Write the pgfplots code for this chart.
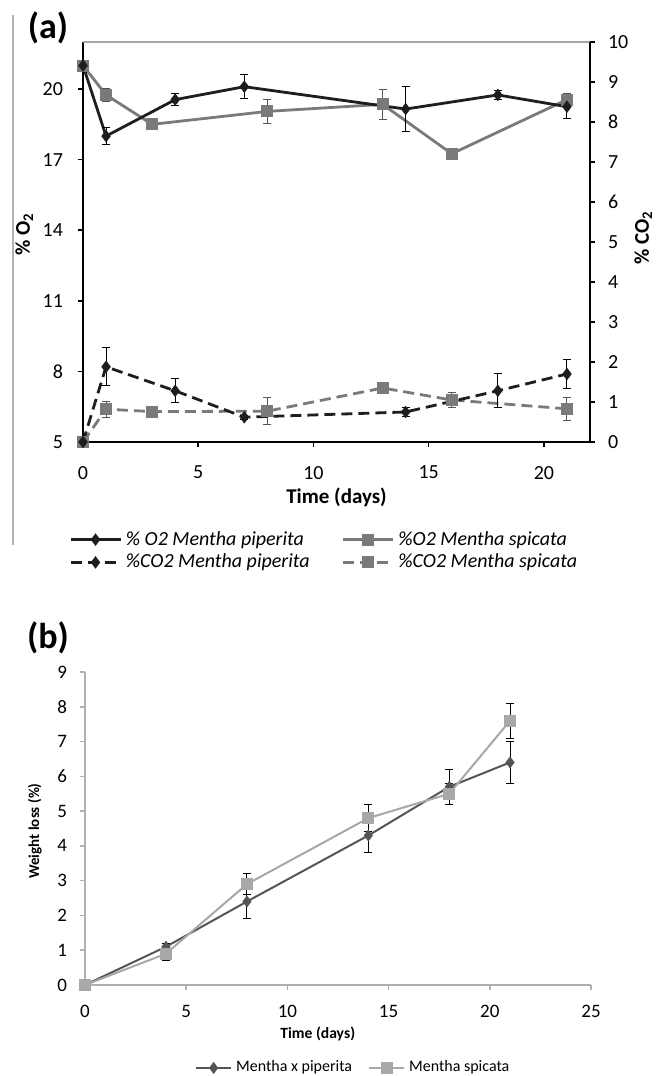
\documentclass[border=0pt]{standalone}
\usepackage{pgfplots}
\pgfplotsset{compat=1.18}
\usepackage{fontspec}
\setmainfont{Carlito}

\definecolor{pipA}{HTML}{1E1E1E}
\definecolor{spiA}{HTML}{7A7A7A}
\definecolor{pipB}{HTML}{555555}
\definecolor{spiB}{HTML}{A8A8A8}
\definecolor{axB}{HTML}{B0B0B0}

\pgfplotsset{
  o2pip/.style={color=pipA, line width=1.4pt, mark=diamond*, mark size=2pt, mark options={solid}},
  o2spi/.style={color=spiA, line width=1.4pt, mark=square*, mark size=2.3pt, mark options={solid}},
  co2pip/.style={o2pip, dash pattern=on 5.5pt off 3pt},
  co2spi/.style={o2spi, dash pattern=on 5.5pt off 3pt},
  ebars/.style={error bars/.cd, y dir=both, y explicit, error mark=-,
    error bar style={line width=0.5pt, solid, color=#1},
    error mark options={rotate=90, line width=0.5pt, mark size=2pt, solid, color=#1}},
}

\begin{document}
\begin{tikzpicture}
\path[use as bounding box] (0,0) rectangle (329pt,538pt);

% frame edge on the left of panel (a)
\draw[gray!60, line width=1pt] (6.5pt,530.5pt) -- (6.5pt,265.5pt);
\node[font=\fontsize{18}{20}\selectfont\bfseries] at (24pt,524pt) {(a)};
\node[font=\fontsize{18}{20}\selectfont\bfseries] at (24pt,219pt) {(b)};

%% ---- panel (a), left axis: % O2
\begin{axis}[
  at={(41.5pt,317pt)}, anchor=south west,
  scale only axis, width=253.5pt, height=200pt,
  xmin=0, xmax=22, ymin=5, ymax=22,
  xtick={0,5,...,20}, ytick={5,8,...,20},
  axis x line*=bottom, axis y line*=left,
  axis line style={-, black, line width=0.8pt},
  tick style={black, line width=0.8pt},
  tick align=outside, major tick length=2.5pt,
  /pgf/number format/assume math mode=true,
  tick label style={font=\fontsize{10}{12}\selectfont},
  yticklabel style={xshift=-4pt},
  xticklabel style={yshift=-6pt},
  xlabel={\bfseries Time (days)},
  xlabel style={font=\fontsize{10.5}{12}\selectfont, at={(axis description cs:0.5,-0.1375)}, anchor=center},
  ylabel={\bfseries \% O\textsubscript{2}},
  ylabel style={font=\fontsize{10.5}{12}\selectfont, at={(axis description cs:-0.116,0.52)}, anchor=center},
  clip=false,
]
\draw[gray!70, line width=0.6pt] (rel axis cs:0,1) -- (rel axis cs:1,1);
\addplot[o2spi, ebars=spiA!70!black] coordinates {
  (0,21) +- (0,0)
  (1,19.75) +- (0,0.28)
  (3,18.5) +- (0,0.12)
  (8,19.05) +- (0,0.5)
  (13,19.35) +- (0,0.65)
  (16,17.25) +- (0,0.12)
  (21,19.55) +- (0,0.25)
};
\addplot[o2pip, ebars=black] coordinates {
  (0,21) +- (0,0)
  (1,18.0) +- (0,0.35)
  (4,19.55) +- (0,0.25)
  (7,20.1) +- (0,0.5)
  (14,19.15) +- (0,0.95)
  (18,19.75) +- (0,0.2)
  (21,19.25) +- (0,0.5)
};
\end{axis}

%% ---- panel (a), right axis: % CO2
\begin{axis}[
  at={(41.5pt,317pt)}, anchor=south west,
  scale only axis, width=253.5pt, height=200pt,
  xmin=0, xmax=22, ymin=0, ymax=10,
  ytick={0,1,...,10},
  axis x line=none, axis y line*=right,
  axis line style={-, black, line width=0.8pt},
  tick style={black, line width=0.8pt},
  tick align=outside, major tick length=2.5pt,
  /pgf/number format/assume math mode=true,
  tick label style={font=\fontsize{10}{12}\selectfont},
  yticklabel style={xshift=3pt},
  ylabel={\bfseries \% CO\textsubscript{2}},
  ylabel style={font=\fontsize{10.5}{12}\selectfont, at={(axis description cs:1.105,0.51)}, anchor=center},
  clip=false,
  legend columns=2,
  legend cell align=left,
  legend style={at={(axis description cs:-0.04,-0.2725)}, anchor=west, draw=none, fill=none,
    font=\fontsize{10}{12}\selectfont\itshape, row sep=-1pt,
    /tikz/every even column/.append style={column sep=14pt}},
  legend image code/.code={\draw[mark repeat=2, mark phase=2] plot coordinates {(0pt,0pt) (12.5pt,0pt) (25pt,0pt)};},
]
\addlegendimage{o2pip}
\addlegendentry{\% O2 Mentha piperita}
\addlegendimage{o2spi}
\addlegendentry{\%O2 Mentha spicata}
\addplot[co2spi, forget plot, ebars=spiA!70!black] coordinates {
  (0,0) +- (0,0)
  (1,0.82) +- (0,0.2)
  (3,0.76) +- (0,0.12)
  (8,0.77) +- (0,0.34)
  (13,1.35) +- (0,0.05)
  (16,1.05) +- (0,0.18)
  (21,0.83) +- (0,0.29)
};
\addplot[co2pip, ebars=black] coordinates {
  (0,0) +- (0,0)
  (1,1.88) +- (0,0.48)
  (4,1.28) +- (0,0.3)
  (7,0.62) +- (0,0.05)
  (14,0.75) +- (0,0.12)
  (18,1.28) +- (0,0.42)
  (21,1.7) +- (0,0.36)
};
\addlegendentry{\%CO2 Mentha piperita}
\addlegendimage{co2spi}
\addlegendentry{\%CO2 Mentha spicata}
\end{axis}

%% ---- panel (b): weight loss
\begin{axis}[
  at={(42.5pt,45.5pt)}, anchor=south west,
  scale only axis, width=253pt, height=156.5pt,
  xmin=0, xmax=25, ymin=0, ymax=9,
  xtick={0,5,...,25}, ytick={0,1,...,9},
  axis x line*=bottom, axis y line*=left,
  axis line style={-, axB, line width=0.9pt},
  tick style={axB, line width=0.8pt},
  tick align=outside, major tick length=2.5pt,
  /pgf/number format/assume math mode=true,
  tick label style={font=\fontsize{9.5}{11}\selectfont},
  yticklabel style={xshift=-3pt},
  xticklabel style={yshift=-4pt},
  xlabel={\bfseries Time (days)},
  xlabel style={font=\fontsize{7.8}{9}\selectfont, at={(axis description cs:0.46,-0.157)}, anchor=center},
  ylabel={\bfseries Weight loss (\%)},
  ylabel style={font=\fontsize{7.5}{9}\selectfont, at={(axis description cs:-0.099,0.492)}, anchor=center},
  clip=false,
  legend columns=2,
  legend cell align=left,
  legend style={at={(axis description cs:0.205,-0.265)}, anchor=west, draw=none, fill=none,
    font=\fontsize{8}{10}\selectfont,
    /tikz/every even column/.append style={column sep=6pt}},
  legend image code/.code={\draw[mark repeat=2, mark phase=2] plot coordinates {(0pt,0pt) (8.75pt,0pt) (17.5pt,0pt)};},
]
\addplot[color=pipB, line width=1pt, mark=diamond*, mark size=2.2pt, ebars=black] coordinates {
  (0,0) +- (0,0)
  (4,1.1) +- (0,0.1)
  (8,2.4) +- (0,0.5)
  (14,4.3) +- (0,0.5)
  (18,5.7) +- (0,0.5)
  (21,6.4) +- (0,0.6)
};
\addlegendentry{Mentha x piperita}
\addplot[color=spiB, line width=1pt, mark=square*, mark size=2.5pt, ebars=black] coordinates {
  (0,0) +- (0,0)
  (4,0.9) +- (0,0.2)
  (8,2.9) +- (0,0.3)
  (14,4.8) +- (0,0.4)
  (18,5.5) +- (0,0.3)
  (21,7.6) +- (0,0.5)
};
\addlegendentry{Mentha spicata}
\end{axis}
\end{tikzpicture}
\end{document}
